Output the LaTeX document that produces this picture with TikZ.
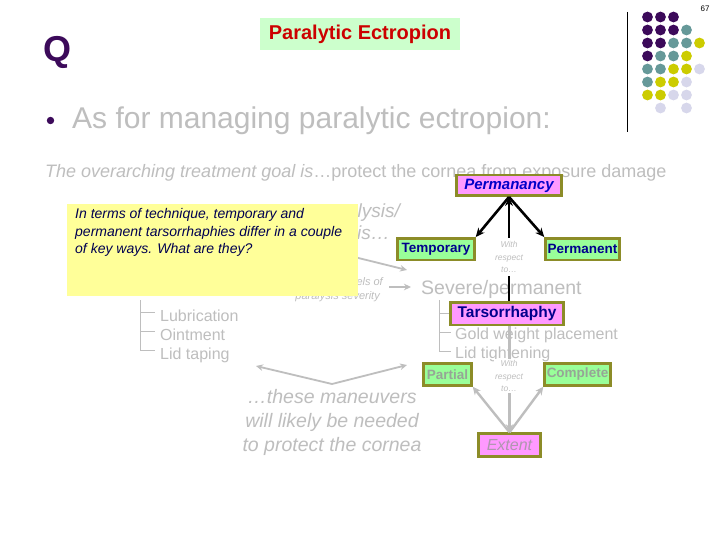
\documentclass[tikz,border=0pt]{standalone}
\usepackage{fontspec}
\setmainfont{Liberation Sans}
\usetikzlibrary{arrows.meta}
\definecolor{gtext}{RGB}{190,190,190}
\definecolor{qpurple}{RGB}{60,10,90}
\definecolor{dteal}{RGB}{102,153,153}
\definecolor{dyel}{RGB}{204,204,0}
\definecolor{dlav}{RGB}{215,215,235}
\definecolor{boxgreen}{RGB}{153,255,153}
\definecolor{boxpink}{RGB}{255,153,255}
\definecolor{olivebd}{RGB}{140,140,40}
\definecolor{blueA}{RGB}{0,0,200}
\definecolor{navyA}{RGB}{0,0,140}
\definecolor{titlegreen}{RGB}{204,255,204}
\definecolor{titlered}{RGB}{204,0,0}
\definecolor{yelbox}{RGB}{255,255,153}
\definecolor{ytxt}{RGB}{0,0,80}
\definecolor{fadegreen}{RGB}{150,165,150}
\definecolor{fadepink}{RGB}{175,150,175}
\newcommand{\fs}[1]{\fontsize{#1}{#1}\selectfont}
\begin{document}
\begin{tikzpicture}[x=1pt,y=-1pt,
  txt/.style={inner sep=0pt, text=gtext},
  bx/.style={draw=olivebd, line width=2.5pt, inner sep=0pt},
  gbx/.style={bx, fill=boxgreen},
  pbx/.style={bx, fill=boxpink},
  blkarrow/.style={draw=black, line width=2.6pt, -{Stealth[length=9pt,width=8pt]}},
  grarrow/.style={draw=gtext, line width=2.4pt, -{Stealth[length=8pt,width=7.5pt]}},
  thinarrow/.style={draw=gtext, line width=1.8pt, -{Stealth[length=7pt,width=6.5pt]}},
  treeln/.style={draw=gtext, line width=0.9pt},
  wrt/.style={fill=white, inner sep=1pt, text=gtext, align=center, font=\itshape\fontsize{8.5}{12.5}\selectfont}
]
\useasboundingbox[fill=white] (0,0) rectangle (720,540);

% header
\node[fill=titlegreen, minimum width=200pt, minimum height=32pt, inner sep=0pt, text=titlered, font=\bfseries\fs{20}] (title) at (360,34.5) {Paralytic Ectropion};
\node[inner sep=0pt, text=qpurple, font=\bfseries\fs{36}] (q) at (57.5,52) {Q};
\node[inner sep=0pt, font=\fs{8}] (pgno) at (705,9) {67};
\draw[line width=1pt] (627,12) -- (627,132);
\foreach \c/\r/\col in {1/1/qpurple,2/1/qpurple,3/1/qpurple,
  1/2/qpurple,2/2/qpurple,3/2/qpurple,4/2/dteal,
  1/3/qpurple,2/3/qpurple,3/3/dteal,4/3/dteal,5/3/dyel,
  1/4/qpurple,2/4/dteal,3/4/dteal,4/4/dyel,
  1/5/dteal,2/5/dteal,3/5/dyel,4/5/dyel,5/5/dlav,
  1/6/dteal,2/6/dyel,3/6/dyel,4/6/dlav,
  1/7/dyel,2/7/dyel,3/7/dlav,4/7/dlav,
  2/8/dlav,4/8/dlav}
  \fill[\col] ({647.5+13*(\c-1)},{17+13*(\r-1)}) circle (5.4pt);
\fill[qpurple] (50.5,120.5) circle (3.7pt);
\node[txt, anchor=base west, font=\fs{30}] (bullet) at (72,129) {As for managing paralytic ectropion:};
\node[txt, anchor=base west, font=\fs{18}] (goal) at (45,178) {{\itshape The overarching treatment goal is}…protect the cornea from exposure damage};

% partly hidden text behind the yellow note
\node[txt, anchor=base east, font=\itshape\fs{19}] (hid1) at (400,218) {paralysis/};
\node[txt, anchor=base east, font=\itshape\fs{19}] (hid2) at (390,240) {is…};
\node[txt, anchor=base east, font=\itshape\fs{11}] (hid3) at (383,285) {levels of};
\node[txt, anchor=base east, font=\itshape\fs{11}] (hid4) at (380,299) {paralysis severity};
\coordinate (ha1) at (330,251);
\coordinate (ha2) at (407,270);
\draw[thinarrow] (ha1) -- (ha2);

% yellow note
\node[fill=yelbox, minimum width=291pt, minimum height=92pt, inner sep=0pt, anchor=north west] (ybox) at (67,204) {};
\node[inner sep=0pt, anchor=north west, align=left, text=ytxt, font=\itshape\fontsize{14}{17.5}\selectfont] (ytext) at (75,208.5) {In terms of technique, temporary and\\permanent tarsorrhaphies differ in a couple\\of key ways. What are they?};

% gray texts
\node[txt, anchor=base west, font=\fs{19.5}] (severe) at (421,294) {Severe/permanent};
\coordinate (sa1) at (389,287);
\coordinate (sa2) at (411,287);
\draw[thinarrow] (sa1) -- (sa2);
\node[txt, anchor=base west, font=\fs{16}] (gold) at (455,339) {Gold weight placement};
\node[txt, anchor=base west, font=\fs{16}] (lidt) at (455,358) {Lid tightening};
\node[txt, anchor=base west, font=\fs{16}] (lub) at (160,321) {Lubrication};
\node[txt, anchor=base west, font=\fs{16}] (oint) at (160,340) {Ointment};
\node[txt, anchor=base west, font=\fs{16}] (ltap) at (160,359) {Lid taping};

% boxes
\node[pbx, minimum width=105pt, minimum height=20.5pt, text=blueA, font=\bfseries\itshape\fs{15}] (perm) at (509,185.5) {Permanancy};
\node[gbx, minimum width=77pt, minimum height=21.5pt, text=navyA, font=\bfseries\fs{13.5}] (temp) at (436,249) {Temporary};
\node[gbx, minimum width=74pt, minimum height=21.5pt, text=navyA, font=\bfseries\fs{13.5}] (pmt) at (582.5,249) {Permanent};
\node[pbx, minimum width=113pt, minimum height=22.5pt, text=navyA, font=\bfseries\fs{15.5}] (tars) at (507,313.5) {Tarsorrhaphy};
\node[gbx, minimum width=48pt, minimum height=22pt, text=fadegreen, font=\bfseries\fs{13.5}] (part) at (447.5,374.5) {Partial};
\node[gbx, minimum width=66pt, minimum height=22pt, text=fadegreen, font=\bfseries\fs{13.5}] (comp) at (577.5,374.5) {Complete};
\node[pbx, minimum width=62pt, minimum height=23pt, text=fadepink, font=\itshape\fs{16}] (ext) at (509.5,445) {Extent};

% connectors
\draw[blkarrow] (perm.south) -- (temp.north east);
\draw[blkarrow] (perm.south) -- (pmt.north west);
\draw[blkarrow] (perm.south |- tars.north) -- (perm.south);
\draw[grarrow] (ext.north |- tars.south) -- (ext.north);
\draw[grarrow] (ext.north) -- (part.south east);
\draw[grarrow] (ext.north) -- (comp.south west);
\node[wrt, minimum height=38pt] (wr1) at (509,257) {With\\respect\\to…};
\node[wrt, minimum height=32pt] (wr2) at (509,376) {With\\respect\\to…};

% tree lines
\coordinate (ltop) at (140,300);
\coordinate (lubt) at ([xshift=-5pt,yshift=9pt]lub.base west);
\coordinate (ointt) at ([xshift=-5pt,yshift=9pt]oint.base west);
\coordinate (ltapt) at ([xshift=-5pt,yshift=9pt]ltap.base west);
\draw[treeln] (ltop) |- (ltapt);
\draw[treeln] (ltop |- lubt) -- (lubt);
\draw[treeln] (ltop |- ointt) -- (ointt);
\coordinate (rtop) at (439,300);
\coordinate (goldt) at ([xshift=-4pt,yshift=7pt]gold.base west);
\coordinate (lidtt) at ([xshift=-4pt,yshift=7pt]lidt.base west);
\draw[treeln] (rtop) |- (lidtt);
\draw[treeln] (rtop |- tars.west) -- (tars.west);
\draw[treeln] (rtop |- goldt) -- (goldt);

% maneuvers
\node[txt, align=center, font=\itshape\fontsize{19.5}{24}\selectfont] (mnv) at (332,422) {…these maneuvers\\will likely be needed\\to protect the cornea};
\coordinate (mv) at (332,384);
\coordinate (mvl) at (256,366);
\coordinate (mvr) at (407,365);
\draw[thinarrow] (mv) -- (mvl);
\draw[thinarrow] (mv) -- (mvr);
\end{tikzpicture}
\end{document}
